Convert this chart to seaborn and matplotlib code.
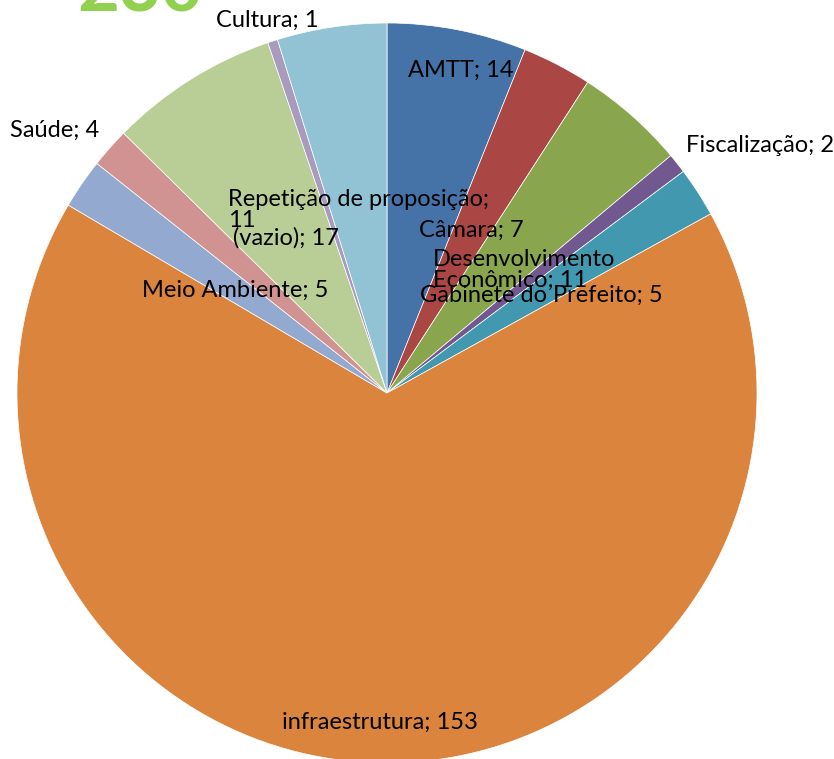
import matplotlib.pyplot as plt
import seaborn as sns

sns.set_style('white')
plt.rcParams['font.family'] = ['Lato', 'DejaVu Sans']

categories = ['AMTT', 'Câmara', 'Desenvolvimento\nEconômico', 'Fiscalização',
              'Gabinete do Prefeito', 'infraestrutura', 'Meio Ambiente', 'Saúde',
              '(vazio)', 'Cultura', 'Repetição de proposição;\n']
values = [14, 7, 11, 2, 5, 153, 5, 4, 17, 1, 11]
total = sum(values)

colors = ['#4572A7', '#AA4643', '#89A54E', '#71588F', '#4198AF', '#DB843D',
          '#93A9CF', '#D19392', '#B9CD96', '#A99BBD', '#91C3D5']

# label anchor points in pixels (x from left, y from top), and alignment
label_pos = [(461, 70, 'center'), (471, 230, 'center'), (433, 270, 'left'),
             (686, 145, 'left'), (541, 295, 'center'), (380, 722, 'center'),
             (235, 290, 'center'), (55, 130, 'center'), (286, 238, 'center'),
             (267, 20, 'center'), (228, 210, 'left')]

W, H = 834, 759
fig = plt.figure(figsize=(W / 100, H / 100), dpi=100)
ax = fig.add_axes([0, 0, 1, 1])
ax.pie(values, colors=colors, startangle=90, counterclock=False,
       center=(387, H - 393), radius=370,
       wedgeprops=dict(edgecolor='white', linewidth=0.5))
ax.set_xlim(0, W)
ax.set_ylim(0, H)
ax.set_aspect('equal')
ax.axis('off')

for cat, val, (x, y, ha) in zip(categories, values, label_pos):
    if cat.endswith('\n'):
        txt = f'{cat}{val}'
    else:
        txt = f'{cat}; {val}'
    ax.text(x, H - y, txt, ha=ha, va='center', fontsize=17, color='black',
            linespacing=1.0)

ax.text(140, H - 12, str(total), ha='center', va='baseline', fontsize=52,
        fontweight='bold', color='#92D050')

fig.savefig('out.png', dpi=100)
